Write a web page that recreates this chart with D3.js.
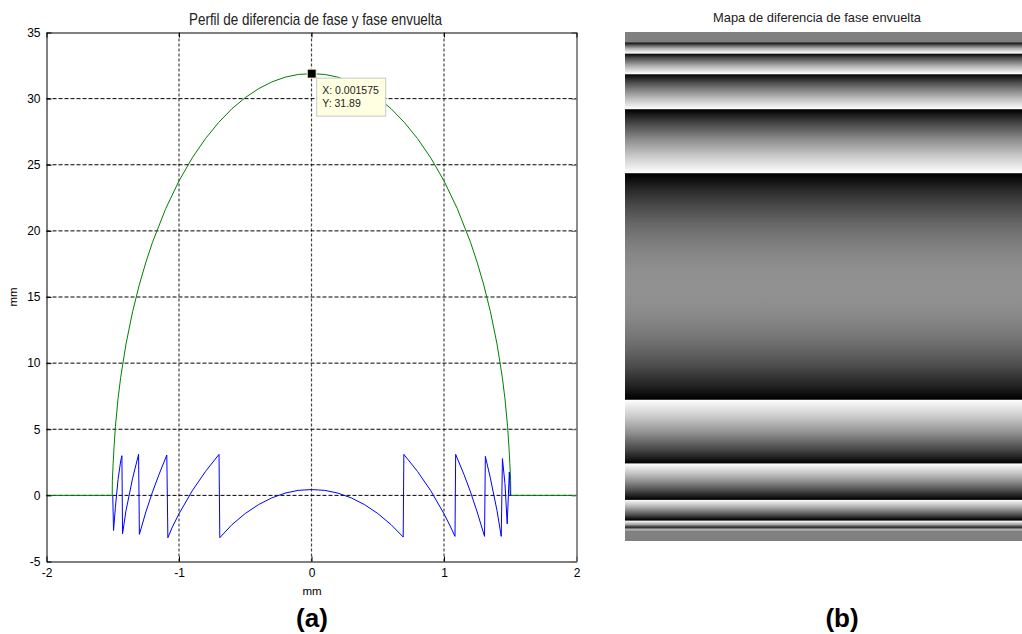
<!DOCTYPE html>
<html>
<head>
<meta charset="utf-8">
<script src="https://cdn.jsdelivr.net/npm/d3@7"></script>
<style>
  html, body { margin: 0; padding: 0; background: #fff; }
  svg { display: block; font-family: "Liberation Sans", Arial, sans-serif; }
</style>
</head>
<body>
<svg id="fig" width="1022" height="634"></svg>
<script>
// ---- data -------------------------------------------------------------
const xTicks = [-2, -1, 0, 1, 2];
const yTicks = [-5, 0, 5, 10, 15, 20, 25, 30, 35];

// phase-difference profile (green), mm vs mm
const profileX = [-2, -1.504, -1.503, -1.497, -1.49, -1.48, -1.46, -1.44, -1.4, -1.35, -1.3, -1.25, -1.2, -1.1, -1.0,
  -0.9, -0.8, -0.7, -0.6, -0.5, -0.4, -0.3, -0.2, -0.1, 0,
  0.1, 0.2, 0.3, 0.4, 0.5, 0.6, 0.7, 0.8, 0.9, 1.0, 1.1, 1.2, 1.25, 1.3, 1.35, 1.4, 1.44, 1.46, 1.48, 1.49,
  1.497, 1.503, 1.504, 2];
const profileY = [0, 0, 1.1, 2.4, 3.68, 5.19, 7.32, 8.93, 11.45, 13.9, 15.91, 17.63, 19.14, 21.69, 23.78,
  25.52, 26.98, 28.21, 29.24, 30.08, 30.75, 31.26, 31.62, 31.83, 31.89,
  31.83, 31.62, 31.26, 30.75, 30.08, 29.24, 28.21, 26.98, 25.52, 23.78, 21.69, 19.14, 17.63, 15.91, 13.9, 11.45, 8.93, 7.32, 5.19, 3.68,
  2.4, 1.1, 0, 0];

// wrapped phase (blue), radians in [-pi, pi]
const wrappedX = [-1.5, -1.494, -1.48, -1.46, -1.44, -1.431, -1.426, -1.4, -1.35, -1.305, -1.299, -1.25, -1.2, -1.15,
  -1.092, -1.084, -1.05, -1.0, -0.9, -0.8, -0.698, -0.692, -0.6, -0.5, -0.4, -0.3, -0.2, -0.1, 0,
  0.1, 0.2, 0.3, 0.4, 0.5, 0.6, 0.692, 0.697, 0.8, 0.9, 1.0, 1.05, 1.083, 1.088, 1.15, 1.2, 1.25,
  1.306, 1.312, 1.35, 1.4, 1.432, 1.441, 1.46, 1.477, 1.493, 1.5];
const wrappedY = [0, -2.65, -0.9, 1.2, 2.6, 3.0, -2.9, -1.15, 1.3, 3.1, -2.95, -1.25, 0.26, 1.6,
  3.05, -3.2, -2.39, -1.39, 0.35, 1.81, 3.1, -3.2, -2.21, -1.37, -0.7, -0.19, 0.17, 0.38, 0.44,
  0.38, 0.17, -0.19, -0.7, -1.37, -2.21, -3.15, 3.1, 1.81, 0.35, -1.39, -2.39, -3.1, 3.1, 1.6, 0.26, -1.25,
  -3.1, 2.95, 1.3, -1.15, -3.1, 2.78, 0.9, -2.15, 1.77, 0];

// data cursor on the profile
const tipX = 0.001575;
const tipY = 31.89;

// extent of the wrapped-phase map along its vertical axis (mm)
const mapExtent = [-1.5613, 1.5613];

// ---- layout -----------------------------------------------------------
const svg = d3.select("#fig");
svg.append("rect").attr("width", 1022).attr("height", 634).attr("fill", "#fff");

const x = d3.scaleLinear().domain([-2, 2]).range([46.5, 576.5]);
const y = d3.scaleLinear().domain([-5, 35]).range([561.5, 32.5]);

const plot = svg.append("g");

// grid
const grid = plot.append("g");
grid.selectAll("line.v").data(xTicks.slice(1, -1)).join("line")
  .attr("x1", d => x(d)).attr("x2", d => x(d))
  .attr("y1", y(-5)).attr("y2", y(35))
  .attr("stroke", "#444").attr("stroke-width", 1.2).attr("stroke-dasharray", "3,2");
grid.selectAll("line.h").data(yTicks.slice(1, -1)).join("line")
  .attr("x1", x(-2)).attr("x2", x(2))
  .attr("y1", d => y(d)).attr("y2", d => y(d))
  .attr("stroke", "#000").attr("stroke-width", 1).attr("stroke-dasharray", "4,2");

// curves
const line = d3.line().x(d => x(d[0])).y(d => y(d[1]));
plot.append("path")
  .datum(profileX.map((v, i) => [v, profileY[i]]))
  .attr("d", line).attr("fill", "none").attr("stroke", "#008000").attr("stroke-width", 1);
plot.append("path")
  .datum(wrappedX.map((v, i) => [v, wrappedY[i]]))
  .attr("d", line).attr("fill", "none").attr("stroke", "#0000ff").attr("stroke-width", 1);

// axes (ticks pointing inward, box on all four sides)
const fmt = d => String(d);
const axL = plot.append("g").attr("transform", `translate(${x(-2)},0)`)
  .call(d3.axisLeft(y).tickValues(yTicks).tickFormat(fmt).tickSizeInner(-5).tickSizeOuter(0).tickPadding(6));
const axB = plot.append("g").attr("transform", `translate(0,${y(-5)})`)
  .call(d3.axisBottom(x).tickValues(xTicks).tickFormat(fmt).tickSizeInner(-5).tickSizeOuter(0).tickPadding(7));
const axR = plot.append("g").attr("transform", `translate(${x(2)},0)`)
  .call(d3.axisRight(y).tickValues(yTicks).tickFormat("").tickSizeInner(-5).tickSizeOuter(0));
const axT = plot.append("g").attr("transform", `translate(0,${y(35)})`)
  .call(d3.axisTop(x).tickValues(xTicks).tickFormat("").tickSizeInner(-5).tickSizeOuter(0));

[axL, axB, axT].forEach(a => {
  a.select(".domain").attr("stroke", "#000");
  a.selectAll(".tick line").attr("stroke", "#000");
});
axR.select(".domain").attr("stroke", "#666").attr("stroke-width", 1.5);
axR.selectAll(".tick line").attr("stroke", "#666");
[axL, axB].forEach(a => a.selectAll(".tick text")
  .attr("font-size", 12).attr("fill", "#000").attr("font-family", "Liberation Sans, Arial, sans-serif"));

// axis labels and title
svg.append("text").attr("x", 312).attr("y", 595).attr("text-anchor", "middle")
  .attr("font-size", 11.5).text("mm");
svg.append("text").attr("transform", "translate(17,297) rotate(-90)").attr("text-anchor", "middle")
  .attr("font-size", 11.5).text("mm");
svg.append("text").attr("x", 315.5).attr("y", 25).attr("text-anchor", "middle")
  .attr("font-size", 17).attr("textLength", 253).attr("lengthAdjust", "spacingAndGlyphs")
  .attr("fill", "#222").text("Perfil de diferencia de fase y fase envuelta");

// data cursor
const tx = x(tipX), ty = y(tipY);
plot.append("rect").attr("x", tx - 4.5).attr("y", ty - 4.5).attr("width", 9).attr("height", 9)
  .attr("fill", "#000").attr("stroke", "#ffffd0").attr("stroke-width", 1);
const tip = plot.append("g").attr("transform", `translate(${tx + 5},${ty + 4.5})`);
tip.append("rect").attr("width", 69).attr("height", 38)
  .attr("fill", "#ffffe1").attr("stroke", "#c8c8c8").attr("stroke-width", 1);
tip.append("text").attr("x", 5.5).attr("y", 16).attr("font-size", 10.5).attr("fill", "#222")
  .text(`X: ${tipX}`);
tip.append("text").attr("x", 5.5).attr("y", 28.5).attr("font-size", 10.5).attr("fill", "#222")
  .text(`Y: ${tipY}`);

// ---- wrapped phase map ------------------------------------------------
const mapX0 = 625, mapX1 = 1022;
const rowY = d3.scaleLinear().domain(mapExtent).range([32, 541]);
const gray = d3.scaleLinear().domain([-Math.PI, Math.PI]).range(["#000", "#fff"]).clamp(true);

const defs = svg.append("defs");
const grad = defs.append("linearGradient").attr("id", "phaseMap")
  .attr("gradientUnits", "userSpaceOnUse")
  .attr("x1", 0).attr("x2", 0).attr("y1", rowY(mapExtent[0])).attr("y2", rowY(mapExtent[1]));
const span = rowY(mapExtent[1]) - rowY(mapExtent[0]);
grad.selectAll("stop").data(wrappedX.map((v, i) => [v, wrappedY[i]])).join("stop")
  .attr("offset", d => Math.max(0, Math.min(1, (rowY(d[0]) - rowY(mapExtent[0])) / span)))
  .attr("stop-color", d => gray(d[1]));

svg.append("rect").attr("x", mapX0).attr("y", rowY(mapExtent[0]))
  .attr("width", mapX1 - mapX0).attr("height", span)
  .attr("fill", "url(#phaseMap)");

svg.append("text").attr("x", 817).attr("y", 22).attr("text-anchor", "middle")
  .attr("font-size", 13).attr("textLength", 208).attr("lengthAdjust", "spacingAndGlyphs")
  .attr("fill", "#222").text("Mapa de diferencia de fase envuelta");

// panel letters
svg.append("text").attr("x", 312).attr("y", 627).attr("text-anchor", "middle")
  .attr("font-size", 26).attr("font-weight", "bold").text("(a)");
svg.append("text").attr("x", 842).attr("y", 627).attr("text-anchor", "middle")
  .attr("font-size", 26).attr("font-weight", "bold").text("(b)");
</script>
</body>
</html>
